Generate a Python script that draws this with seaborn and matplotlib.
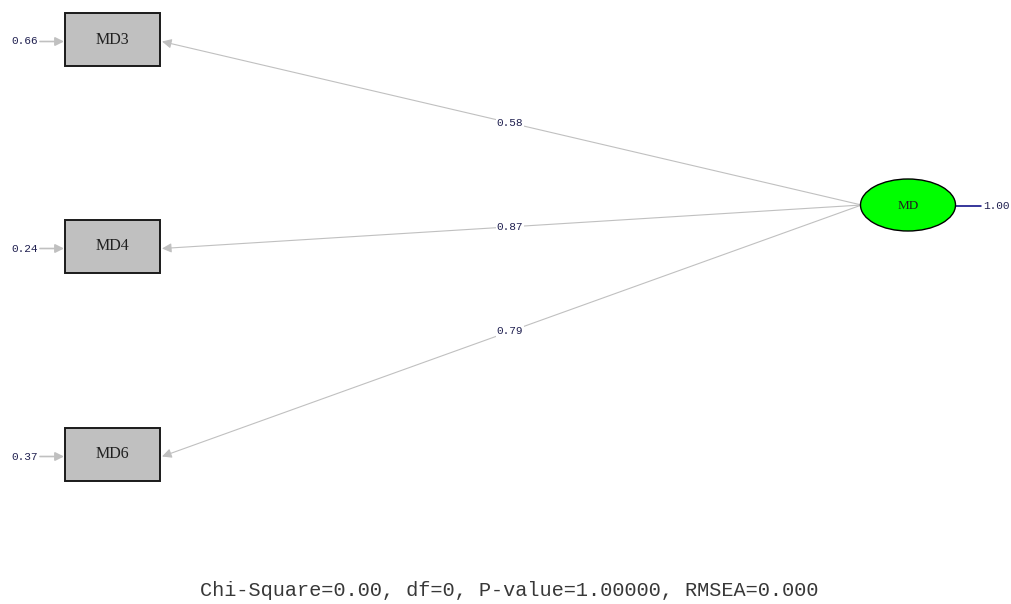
import matplotlib
matplotlib.use("Agg")
import matplotlib.pyplot as plt
from matplotlib.patches import Rectangle, Ellipse, FancyArrowPatch
import seaborn as sns

# Standardized solution of a one-factor model
indicators = ["MD3", "MD4", "MD6"]
loadings = [0.58, 0.87, 0.79]
error_variances = [0.66, 0.24, 0.37]
factor = "MD"
factor_variance = 1.00
fit_text = "Chi-Square=0.00, df=0, P-value=1.00000, RMSEA=0.000"

sns.set_theme(style="white")
plt.rcParams["font.family"] = ["Liberation Mono", "DejaVu Sans Mono"]

W, H = 1012, 604
fig = plt.figure(figsize=(W / 100, H / 100), dpi=100)
ax = fig.add_axes([0, 0, 1, 1])
ax.set_xlim(0, W)
ax.set_ylim(H, 0)
ax.axis("off")

# Layout (pixel space)
box_x, box_w, box_h = 65, 95, 53
box_centers_y = [39.5, 246.5, 454.5]
fx, fy, fw, fh = 908, 205, 95, 52
path_col = "#c0c0c0"
num_col = "#202050"

# Factor ellipse
ax.add_patch(Ellipse((fx, fy), fw, fh, facecolor="#00ff00",
                     edgecolor="black", lw=1.0, zorder=3))
ax.text(fx, fy + 1, factor, ha="center", va="center", fontsize=9.5,
        color="#202020", family=["Liberation Serif"], zorder=4)

# Factor variance
ax.plot([fx + fw / 2, fx + fw / 2 + 26], [fy + 1, fy + 1],
        color="#000080", lw=1.1, zorder=2)
ax.text(fx + fw / 2 + 28, fy + 1, f"{factor_variance:.2f}", ha="left",
        va="center", fontsize=8, color=num_col)

for name, lam, err, cy in zip(indicators, loadings, error_variances,
                              box_centers_y):
    # Observed variable box
    ax.add_patch(Rectangle((box_x, cy - box_h / 2), box_w, box_h,
                           facecolor="#c0c0c0", edgecolor="#1a1a1a",
                           lw=1.4, zorder=3))
    ax.text(box_x + box_w / 2, cy, name, ha="center", va="center",
            fontsize=11.5, color="#202020", family=["Liberation Serif"],
            zorder=4)

    # Loading path from factor to indicator
    start = (fx - fw / 2 + 1, fy)
    end = (box_x + box_w + 2, cy + 2)
    ax.add_patch(FancyArrowPatch(start, end, arrowstyle="-|>",
                                 mutation_scale=14, color=path_col,
                                 lw=0.8, shrinkA=0, shrinkB=0, zorder=2))
    mx = 510
    t = (start[0] - mx) / (start[0] - end[0])
    my = start[1] + t * (end[1] - start[1])
    ax.text(mx, my, f"{lam:.2f}", ha="center", va="center", fontsize=8,
            color=num_col, zorder=4,
            bbox=dict(boxstyle="square,pad=0.1", fc="white", ec="none"))

    # Error variance arrow
    ax.add_patch(FancyArrowPatch((40, cy + 2), (box_x - 1, cy + 2),
                                 arrowstyle="-|>", mutation_scale=13,
                                 color=path_col, lw=1.2, shrinkA=0,
                                 shrinkB=0, zorder=2))
    ax.text(38, cy + 2, f"{err:.2f}", ha="right", va="center",
            fontsize=8, color=num_col)

# Fit statistics
ax.text(509, 590, fit_text, ha="center", va="center", fontsize=14.6,
        color="#383838")

fig.savefig("out.png", dpi=100)
